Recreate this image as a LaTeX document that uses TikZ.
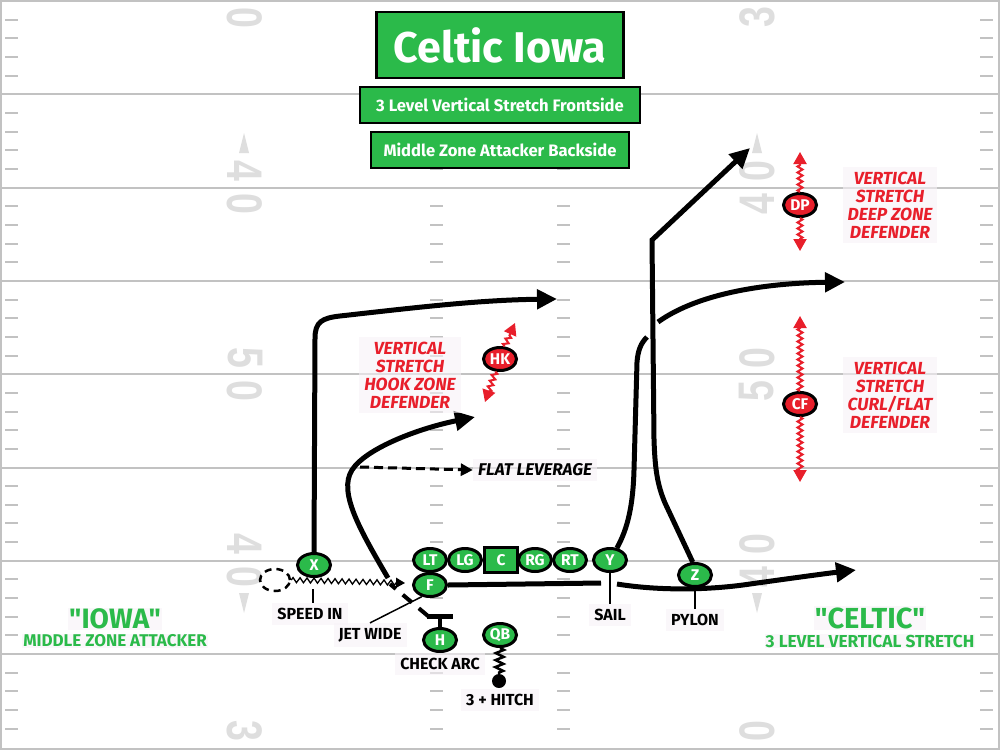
\documentclass[tikz,border=0pt]{standalone}
\usepackage{fontspec}
\setmainfont{Fira Sans}[Ligatures=TeXOff]
\newfontfamily\numfont{Liberation Sans}
\usetikzlibrary{shapes.geometric,arrows.meta,decorations.pathmorphing}
\definecolor{turf}{rgb}{0.17, 0.73, 0.29}
\definecolor{zone}{rgb}{0.91, 0.12, 0.17}
\definecolor{chalk}{rgb}{0.76, 0.76, 0.76}
\definecolor{paint}{rgb}{0.87, 0.87, 0.87}
\definecolor{haze}{rgb}{0.97, 0.95, 0.97}
\newcommand{\yardnum}[1]{\scalebox{0.75}[1]{#1}}
\pgfdeclarelayer{field}
\pgfdeclarelayer{routes}
\pgfsetlayers{field,routes,main}

\begin{document}
\begin{tikzpicture}[x=1pt,y=-1pt,
        player/.style={ellipse,draw=black,line width=3pt,fill=turf,text=white,
            font=\bfseries\fontsize{15.5}{15}\selectfont,inner sep=0pt,minimum width=33pt,minimum height=23pt},
        defender/.style={player,fill=zone},
        tag/.style={font=\bfseries\fontsize{16}{18}\selectfont,fill=haze,fill opacity=0.6,text opacity=1,inner sep=5pt,align=center},
        zonetag/.style={tag,text=zone,font=\bfseries\itshape\fontsize{17.5}{18}\selectfont},
        bigbox/.style={draw=black,line width=2.5pt,fill=turf,text=white,font=\bfseries\fontsize{16.6}{16}\selectfont,inner sep=0pt},
        yardmark/.style={paint,inner sep=0pt,font=\numfont\bfseries\fontsize{50}{50}\selectfont},
        route/.style={line width=5pt,-{Triangle[length=20pt,width=19pt]}},
        leader/.style={line width=1.5pt},
        zonearrow/.style={zone,line width=2pt,decorate,decoration={zigzag,segment length=6pt,amplitude=2.5pt,post length=11pt},-{Triangle[length=12pt,width=13pt]}}]

    \useasboundingbox (0,0) rectangle (1000,750);

    \begin{pgfonlayer}{field}
        \fill[white] (0,0) rectangle (1000,750);
        \foreach \row in {0,...,7}{
            \pgfmathsetmacro{\ly}{1+93.3*\row}
            \draw[chalk,line width=2pt] (0,\ly) -- (1000,\ly);
            \foreach \k in {1,...,4}{
                \pgfmathsetmacro{\hy}{\ly+18.66*\k}
                \foreach \hx in {5,430,557,980}
                    \draw[chalk,line width=2pt] (\hx,\hy) -- ++(13,0);
            }
        }
        \draw[chalk,line width=2.5pt] (1,1) rectangle (999,749);
        \foreach \my/\lnum/\rnum in {17.5/0/3,171/4/0,204/0/4,358/5/0,391/0/5,544/4/0,577/0/4,731/3/0}{
            \node[yardmark,rotate=-90] at (245,\my) {\yardnum{\lnum}};
            \node[yardmark,rotate=90] at (757,\my) {\yardnum{\rnum}};
        }
        \foreach \ax in {244,757}{
            \fill[paint] (\ax-5,153) -- (\ax,133) -- (\ax+5,153) -- cycle;
            \fill[paint] (\ax-5,593) -- (\ax,613) -- (\ax+5,593) -- cycle;
        }
    \end{pgfonlayer}

    \node[bigbox,minimum width=247pt,minimum height=66pt,font=\bfseries\fontsize{43}{43}\selectfont] (title) at (500,45) {Celtic Iowa};
    \node[bigbox,minimum width=280pt,minimum height=36pt] (front) at (500,105) {3 Level Vertical Stretch Frontside};
    \node[bigbox,minimum width=258pt,minimum height=36pt] (back) at (500,150) {Middle Zone Attacker Backside};

    % offense
    \foreach \name/\x in {LT/430,LG/465,RG/535,RT/570,Y/610}
        \node[player] (\name) at (\x,560) {\name};
    \node[player,rectangle,minimum width=33pt,minimum height=25pt] (C) at (501,560) {C};
    \node[player] (X) at (314,565) {X};
    \node[player] (F) at (430,585) {F};
    \node[player] (H) at (440,640) {H};
    \node[player] (QB) at (500,635) {QB};
    \node[player] (Z) at (695,575) {Z};
    \node[ellipse,draw=black,dash pattern=on 7pt off 5pt,line width=2.5pt,minimum width=30pt,minimum height=22pt] (jet) at (275,580) {};
    \node[circle,fill=black,minimum size=14pt,inner sep=0pt] (drop) at (499,681) {};

    % defense
    \node[defender] (HK) at (500,359) {HK};
    \node[defender] (DP) at (800,205) {DP};
    \node[defender] (CF) at (800,404) {CF};
    \draw[zonearrow] (DP.north) -- (800,152);
    \draw[zonearrow] (DP.south) -- (800,251);
    \draw[zonearrow] (CF.north) -- (800,316);
    \draw[zonearrow] (CF.south) -- (800,482);
    \draw[zonearrow] (HK.70) -- (515,323);
    \draw[zonearrow] (HK.250) -- (485,402);

    % labels
    \node[tag] (speedtag) at (310,614) {SPEED IN};
    \node[tag] (jettag) at (370,635) {JET WIDE};
    \node[tag] (checktag) at (440,664) {CHECK ARC};
    \node[tag] (hitchtag) at (500,700) {3 + HITCH};
    \node[tag] (sailtag) at (610,615) {SAIL};
    \node[tag] (pylontag) at (695,620) {PYLON};
    \node[tag,font=\bfseries\itshape\fontsize{17}{18}\selectfont] (flattag) at (535,470) {FLAT LEVERAGE};
    \node[zonetag] (hooktag) at (410,375) {VERTICAL\\STRETCH\\HOOK ZONE\\DEFENDER};
    \node[zonetag] (deeptag) at (890,205) {VERTICAL\\STRETCH\\DEEP ZONE\\DEFENDER};
    \node[zonetag] (curltag) at (890,395) {VERTICAL\\STRETCH\\CURL/FLAT\\DEFENDER};
    \node[tag,text=turf,font=\bfseries\fontsize{28}{28}\selectfont,inner sep=1pt] (iowa) at (115,619) {"IOWA"};
    \node[tag,text=turf,font=\bfseries\fontsize{17}{18}\selectfont,inner sep=1pt] (iowasub) at (115,641) {MIDDLE ZONE ATTACKER};
    \node[tag,text=turf,font=\bfseries\fontsize{29}{29}\selectfont,inner sep=1pt] (celtic) at (870,618) {"CELTIC"};
    \node[tag,text=turf,font=\bfseries\fontsize{17.3}{18}\selectfont,inner sep=1pt] (celticsub) at (870,641) {3 LEVEL VERTICAL STRETCH};

    \coordinate (speedpt) at (313,589);
    \coordinate (block) at (440,616);
    \coordinate (flatstart) at (360,467);
    \draw[leader] (speedpt) -- (speedpt |- speedtag.north);
    \draw[leader] (F.235) -- (jettag.north);
    \draw[leader] (Y.south) -- (sailtag.north);
    \draw[leader] (Z.south) -- (pylontag.north);

    \begin{pgfonlayer}{routes}
        \draw[route] (X.north) -- (315,338) .. controls (315,322) and (322,318) .. (340,316) .. controls (420,307) and (480,300) .. (557,299);
        \draw[decorate,decoration={zigzag,segment length=7pt,amplitude=2.5pt,post length=7pt},line width=1.3pt,-{Triangle[length=9pt,width=10pt]}] (jet.east) -- (405,583);
        \draw[line width=4pt] (H.north) -- (block);
        \draw[line width=5pt] ([xshift=-13pt]block) -- ([xshift=13pt]block);
        \draw[line width=4pt,dash pattern=on 12pt off 9pt] ([xshift=-12pt]block) -- (390,584);
        \draw[route] (388,578) .. controls (360,530) and (338,492) .. (352,470) .. controls (366,448) and (420,428) .. (475,417);
        \draw[line width=3pt,dash pattern=on 9pt off 5pt,-{Triangle[length=12pt,width=12pt]}] (flatstart) -- (flattag.west);
        \draw[decorate,decoration={zigzag,segment length=7pt,amplitude=4pt},line width=2.5pt] (QB.south) -- (drop.north);
        \draw[line width=5pt] (F.east) -- (601,583);
        \draw[route] (617,584) .. controls (660,591) and (710,590) .. (750,584) .. controls (800,577) and (830,573) .. (856,570);
        \draw[line width=5pt] (Y.60) .. controls (628,528) and (633,505) .. (634,470) -- (637,362) .. controls (638,350) and (641,343) .. (647,337);
        \draw[route] (658,322) .. controls (700,292) and (770,283) .. (845,282);
        \draw[route] (Z.100) -- (665,503) .. controls (657,484) and (655,468) .. (654,440) -- (652,240) -- (750,148);
    \end{pgfonlayer}
\end{tikzpicture}
\end{document}
